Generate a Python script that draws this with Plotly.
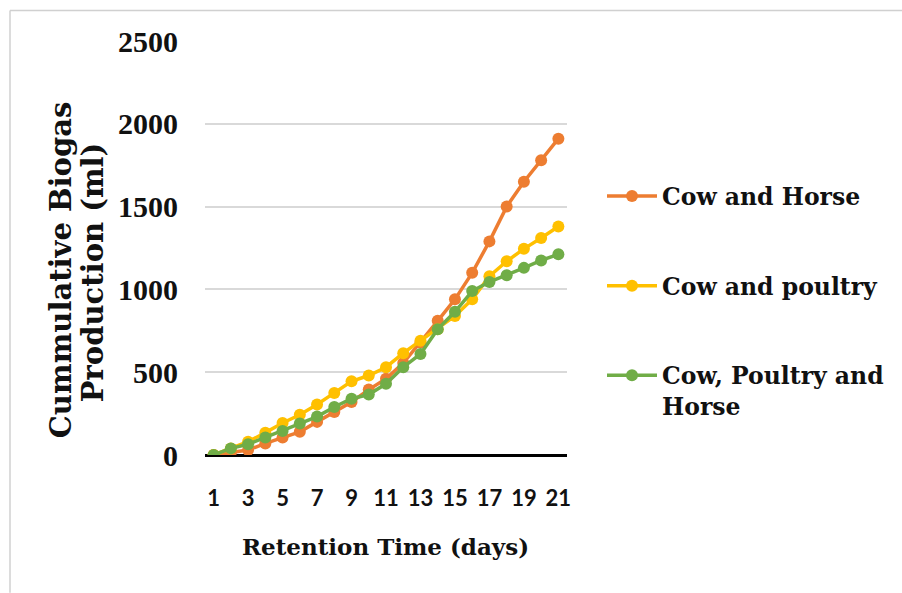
import plotly.graph_objects as go

# Retention time (days) and cumulative biogas production (ml) for each mixture
days = list(range(1, 22))
cow_horse = [0, 15, 30, 70, 105, 140, 200, 260, 320, 395, 460, 555, 680, 810, 940,
             1100, 1290, 1500, 1650, 1780, 1910]
cow_poultry = [0, 40, 80, 135, 193, 243, 305, 375, 445, 480, 530, 615, 690, 760, 840,
               940, 1080, 1170, 1245, 1310, 1380]
cow_poultry_horse = [0, 40, 65, 105, 145, 190, 232, 290, 340, 365, 430, 530, 610, 760,
                     865, 990, 1045, 1085, 1130, 1175, 1212]

series_names = ["Cow and Horse", "Cow and poultry", "Cow, Poultry and<br>Horse"]
series_values = [cow_horse, cow_poultry, cow_poultry_horse]
series_colors = ["#ED7D31", "#FFC000", "#70AD47"]

x_ticks = list(range(1, 22, 2))
y_ticks = [0, 500, 1000, 1500, 2000, 2500]

W, H = 902, 593
L, R, T, B = 205, 567, 40.5, 455  # plot area in pixels

def px(x):
    return (x - L) / (R - L)

def py(y):
    return (B - y) / (B - T)

SERIF = "DejaVu Serif"

fig = go.Figure()
for i, (name, vals, col) in enumerate(zip(series_names, series_values, series_colors)):
    fig.add_trace(go.Scatter(
        x=days, y=vals, name=name, mode="lines+markers",
        line=dict(color=col, width=3.5),
        marker=dict(color=col, size=12),
        legendgroup=f"g{i}",
    ))

fig.update_layout(
    width=W, height=H,
    margin=dict(l=L, r=W - R, t=T, b=H - B, pad=0),
    paper_bgcolor="white", plot_bgcolor="white",
    showlegend=True,
    legend=dict(
        x=px(602), xanchor="left", y=py(174), yanchor="top",
        font=dict(family=SERIF, size=23.5, color="#111111", weight="bold"),
        tracegroupgap=56, valign="top", itemwidth=50,
        bgcolor="rgba(0,0,0,0)",
    ),
    xaxis=dict(
        range=[0.5, 21.5], tickvals=x_ticks, ticktext=[str(v) for v in x_ticks],
        showgrid=False, zeroline=False, showline=False, ticks="",
        tickfont=dict(family="Lato", size=22, color="#111111", weight="bold"),
        ticklabelstandoff=28,
    ),
    yaxis=dict(
        range=[0, 2500], tickvals=y_ticks,
        showgrid=True, gridcolor="#d9d9d9", gridwidth=1.5,
        zeroline=True, zerolinecolor="#000000", zerolinewidth=2.5,
        showline=False, ticks="",
        tickfont=dict(family="Liberation Serif", size=30, color="#111111", weight="bold"),
        ticklabelstandoff=26,
    ),
    annotations=[
        dict(text="Retention Time (days)", xref="paper", yref="paper",
             x=px(385), y=py(547), xanchor="center", yanchor="middle", showarrow=False,
             font=dict(family=SERIF, size=23, color="#111111", weight="bold")),
        dict(text="Cummulative Biogas", xref="paper", yref="paper",
             x=px(61), y=py(270), xanchor="center", yanchor="middle", showarrow=False,
             textangle=-90,
             font=dict(family=SERIF, size=29, color="#111111", weight="bold")),
        dict(text="Production (ml)", xref="paper", yref="paper",
             x=px(93), y=py(272), xanchor="center", yanchor="middle", showarrow=False,
             textangle=-90,
             font=dict(family=SERIF, size=29, color="#111111", weight="bold")),
    ],
    shapes=[
        # thin frame around the chart
        dict(type="line", xref="paper", yref="paper", x0=px(10), x1=px(902),
             y0=py(10), y1=py(10), line=dict(color="#d0d0d0", width=1.5)),
        dict(type="line", xref="paper", yref="paper", x0=px(10), x1=px(10),
             y0=py(10), y1=py(593), line=dict(color="#d0d0d0", width=1.5)),
    ],
)

fig.write_html("out.html")
